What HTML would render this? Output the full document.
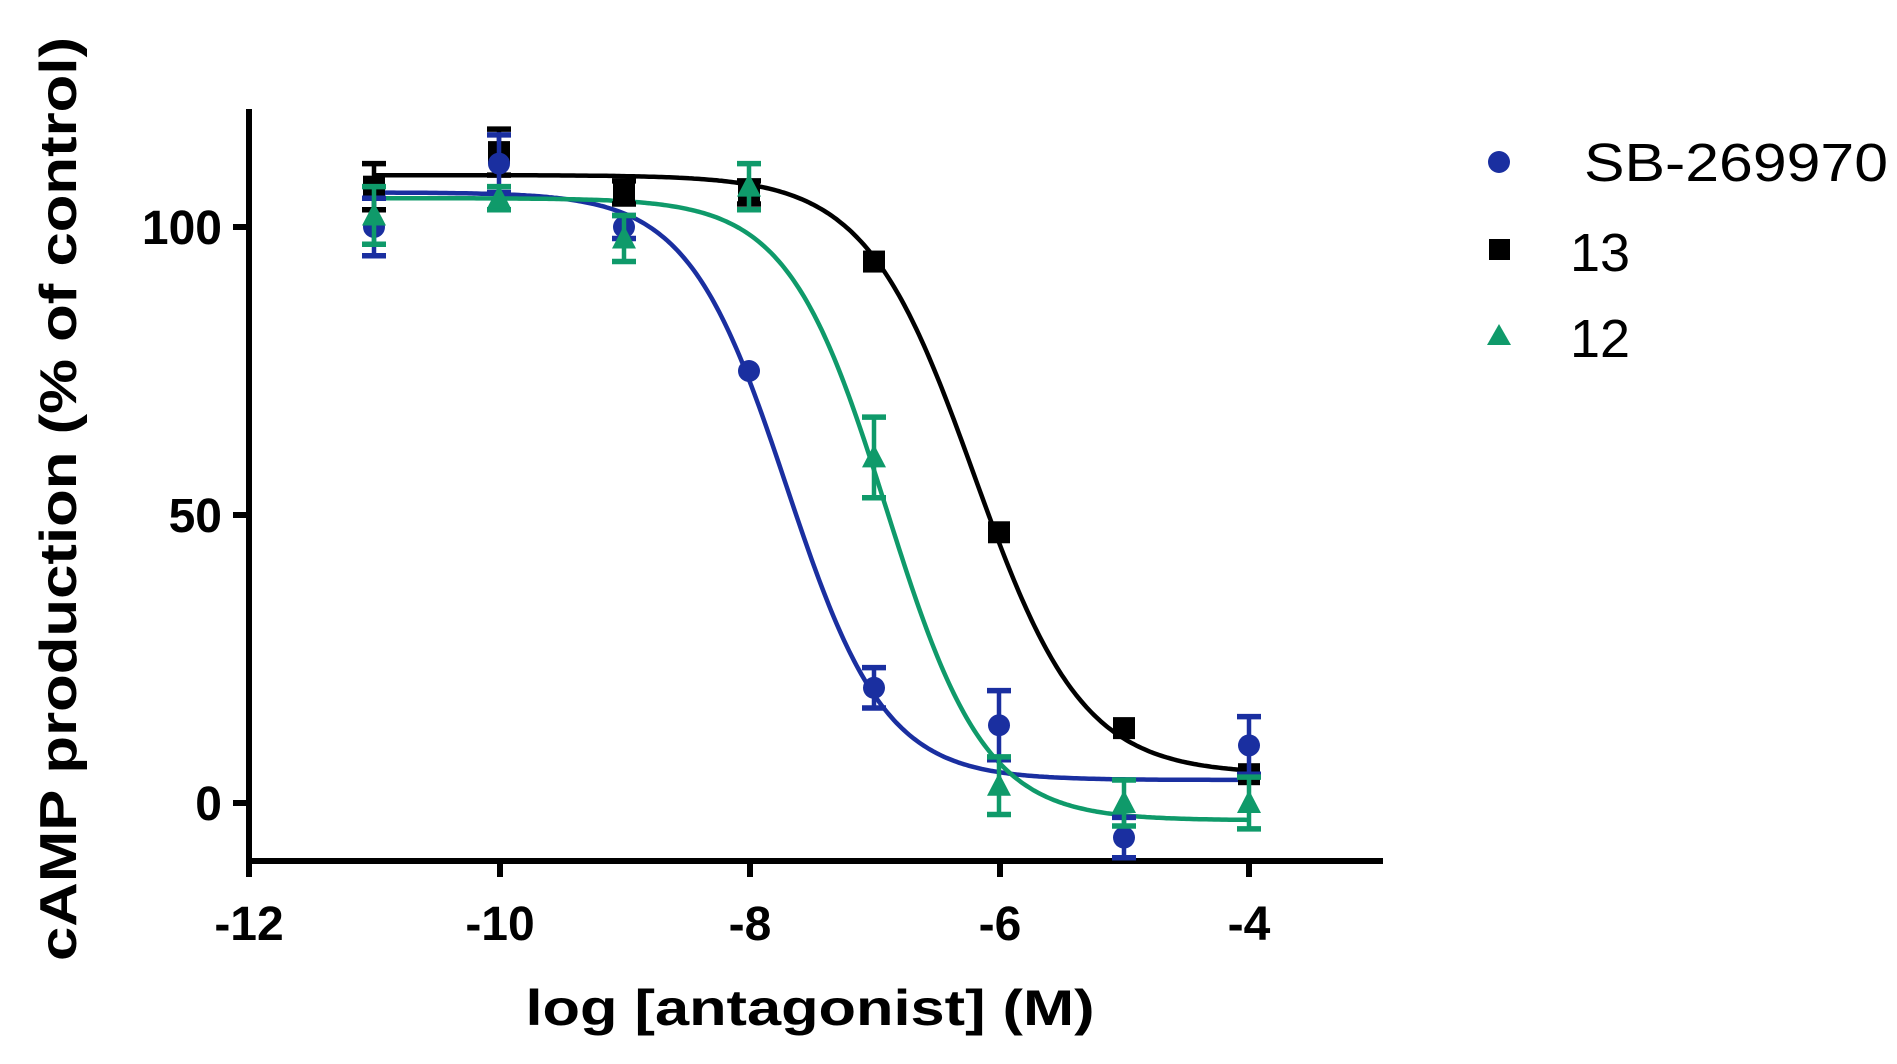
<!DOCTYPE html>
<html><head><meta charset="utf-8"><style>
html,body{margin:0;padding:0;background:#fff;width:1897px;height:1064px;overflow:hidden}
text{font-family:"Liberation Sans",Arial,sans-serif}
</style></head><body>
<svg id="s" width="1897" height="1064" viewBox="0 0 1897 1064" xmlns="http://www.w3.org/2000/svg">
<g stroke="#000" stroke-width="6" fill="none" stroke-linecap="square">
<line x1="249" y1="112" x2="249" y2="861"/>
<line x1="249" y1="861" x2="1380" y2="861"/>
<line x1="236" y1="227" x2="249" y2="227"/>
<line x1="236" y1="515" x2="249" y2="515"/>
<line x1="236" y1="803" x2="249" y2="803"/>
<line x1="249" y1="861" x2="249" y2="874"/>
<line x1="500" y1="861" x2="500" y2="874"/>
<line x1="750" y1="861" x2="750" y2="874"/>
<line x1="1000" y1="861" x2="1000" y2="874"/>
<line x1="1249" y1="861" x2="1249" y2="874"/>
</g>
<g font-weight="bold" font-size="48" fill="#000">
<text x="222" y="244" text-anchor="end">100</text>
<text x="222" y="532" text-anchor="end">50</text>
<text x="222" y="820" text-anchor="end">0</text>
<text x="249" y="940" text-anchor="middle">-12</text>
<text x="500" y="940" text-anchor="middle">-10</text>
<text x="750" y="940" text-anchor="middle">-8</text>
<text x="1000" y="940" text-anchor="middle">-6</text>
<text x="1249" y="940" text-anchor="middle">-4</text>
<text x="810" y="1025" text-anchor="middle" font-size="50" textLength="569" lengthAdjust="spacingAndGlyphs">log [antagonist] (M)</text>
<text transform="translate(76,499) rotate(-90)" text-anchor="middle" font-size="52" textLength="924" lengthAdjust="spacingAndGlyphs">cAMP production (% of control)</text>
</g>
<g id="plot"></g>
<circle cx="1499" cy="162" r="11" fill="#1a2fa0"/>
<rect x="1489" y="239" width="21" height="21" fill="#000"/>
<polygon points="1499,324 1511,345 1487,345" fill="#0f9a6a"/>
<g font-size="54" fill="#000">
<text x="1584" y="181" textLength="304" lengthAdjust="spacingAndGlyphs">SB-269970</text>
<text x="1570" y="271">13</text>
<text x="1570" y="357">12</text>
</g>
</svg>
<script>
var X=v=>249+(v+12)*125.0, Y=p=>803-p*5.76;
var ns="http://www.w3.org/2000/svg", g=document.getElementById("plot");
function el(t,a){var e=document.createElementNS(ns,t);for(var k in a)e.setAttribute(k,a[k]);g.appendChild(e);return e;}
var series=[
 {c:"#000",top:109,bot:5,ic:-6.2,h:1.0,m:"sq",d:[[-11,107,4],[-10,113,4],[-9,106,2],[-8,106,2],[-7,94,1],[-6,47,1],[-5,13,1],[-4,5,1]]},
 {c:"#1a2fa0",top:106,bot:4,ic:-7.7,h:1.1,m:"ci",d:[[-11,100,5],[-10,111,5],[-9,100,2],[-8,75,1],[-7,20,3.5],[-6,13.5,6],[-5,-6,3.5],[-4,10,5]]},
 {c:"#0f9a6a",top:105,bot:-3,ic:-6.9,h:1.1,m:"tr",d:[[-11,102,5],[-10,105,2],[-9,98,4],[-8,107,4],[-7,60,7],[-6,3,5],[-5,0,4],[-4,0,4.5]]}
];
series.forEach(s=>{
 var p="";for(var v=-11;v<=-4.0001+0.01;v+=0.02){var y=s.bot+(s.top-s.bot)/(1+Math.pow(10,(v-s.ic)*s.h));p+=(p?"L":"M")+X(v).toFixed(1)+" "+Y(y).toFixed(1);}
 el("path",{d:p,stroke:s.c,"stroke-width":4.5,fill:"none"});
});
series.forEach(s=>{
 s.d.forEach(d=>{var x=X(d[0]),y=Y(d[1]),e=d[2]*5.76;
  if(e>6){el("line",{x1:x,y1:y-e,x2:x,y2:y+e,stroke:s.c,"stroke-width":4.5});
   el("line",{x1:x-12,y1:y-e,x2:x+12,y2:y-e,stroke:s.c,"stroke-width":5.5});
   el("line",{x1:x-12,y1:y+e,x2:x+12,y2:y+e,stroke:s.c,"stroke-width":5.5});}
  if(s.m=="sq")el("rect",{x:x-11,y:y-11,width:22,height:22,fill:s.c});
  else if(s.m=="ci")el("circle",{cx:x,cy:y,r:11,fill:s.c});
  else el("polygon",{points:x+","+(y-13)+" "+(x+12)+","+(y+10)+" "+(x-12)+","+(y+10),fill:s.c});
 });
});
</script>
</body></html>
